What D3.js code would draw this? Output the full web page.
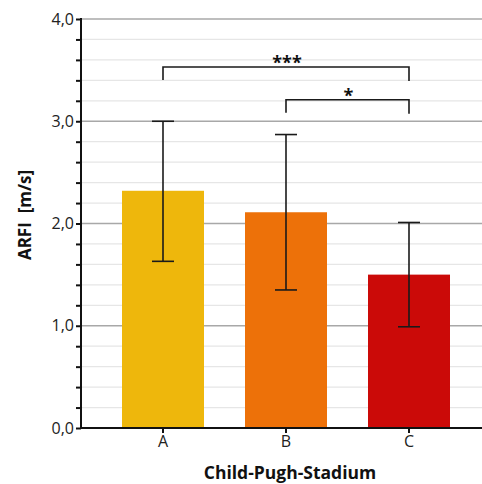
<!DOCTYPE html>
<html>
<head>
<meta charset="utf-8">
<script src="https://cdn.jsdelivr.net/npm/d3@7"></script>
<style>
  html, body { margin: 0; padding: 0; background: #fff; }
  svg { display: block; font-family: "Open Sans", "Noto Sans", sans-serif; }
</style>
</head>
<body>
<svg id="chart" width="482" height="484"></svg>
<script>
// Child-Pugh stages and mean ARFI values with error range
const categories = ["A", "B", "C"];
const means = [2.32, 2.11, 1.50];
const errLow = [1.63, 1.35, 0.99];
const errHigh = [3.00, 2.87, 2.01];
const colors = ["#eeb70c", "#ed7109", "#cb0a08"];
const yTickValues = [0, 1, 2, 3, 4];
const yTickLabels = ["0,0", "1,0", "2,0", "3,0", "4,0"];
// significance brackets: [from, to, label, level]
const brackets = [["A", "C", "***", 3.53], ["B", "C", "*", 3.21]];

(function () {
  const svg = d3.select("#chart");
  const plotLeft = 81, plotBottom = 428, plotTop = 19, plotRight = 491;

  const x = d3.scaleBand().domain(categories).range([plotLeft, plotRight])
    .paddingInner(1 / 3).paddingOuter(1 / 3);
  const y = d3.scaleLinear().domain([0, 4]).range([plotBottom, plotTop]);

  // grid: minor every 0.2, major every 1.0
  const minor = d3.range(0.2, 4.0001, 0.2).filter(v => Math.abs(v - Math.round(v)) > 1e-6);
  svg.append("g").selectAll("line").data(minor).join("line")
    .attr("x1", plotLeft).attr("x2", 482)
    .attr("y1", d => y(d)).attr("y2", d => y(d))
    .attr("stroke", "#e6e6e6").attr("stroke-width", 1.3);
  svg.append("g").selectAll("line").data(yTickValues.slice(1)).join("line")
    .attr("x1", plotLeft).attr("x2", 482)
    .attr("y1", d => y(d)).attr("y2", d => y(d))
    .attr("stroke", "#a8a8a8").attr("stroke-width", 1.3);

  // bars
  svg.append("g").selectAll("rect").data(categories).join("rect")
    .attr("x", d => x(d)).attr("width", x.bandwidth())
    .attr("y", (d, i) => y(means[i]))
    .attr("height", (d, i) => plotBottom - y(means[i]))
    .attr("fill", (d, i) => colors[i]);

  // error bars
  const eg = svg.append("g").attr("stroke", "#1a1a1a").attr("stroke-width", 1.6).attr("fill", "none");
  categories.forEach((c, i) => {
    const cx = x(c) + x.bandwidth() / 2;
    eg.append("line").attr("x1", cx).attr("x2", cx).attr("y1", y(errLow[i])).attr("y2", y(errHigh[i]));
    eg.append("line").attr("x1", cx - 11).attr("x2", cx + 11).attr("y1", y(errHigh[i])).attr("y2", y(errHigh[i]));
    eg.append("line").attr("x1", cx - 11).attr("x2", cx + 11).attr("y1", y(errLow[i])).attr("y2", y(errLow[i]));
  });

  // y axis
  const yAxis = d3.axisLeft(y).tickValues(d3.range(0, 4.0001, 0.2))
    .tickSize(5).tickFormat(d => {
      const k = yTickValues.findIndex(v => Math.abs(v - d) < 1e-6);
      return k >= 0 ? yTickLabels[k] : "";
    });
  const ya = svg.append("g").attr("transform", `translate(${plotLeft},0)`).call(yAxis);
  ya.select(".domain").attr("stroke", "#111").attr("stroke-width", 2)
    .attr("d", `M0,${plotTop - 1}V${plotBottom + 1}`);
  ya.selectAll(".tick line").attr("stroke", "#111").attr("stroke-width", 2);
  ya.selectAll(".tick text").attr("font-size", 16).attr("fill", "#222")
    .attr("x", -7).attr("font-family", "'Open Sans', 'Noto Sans', sans-serif");

  // x axis
  const xAxis = d3.axisBottom(x).tickSize(5).tickSizeOuter(0);
  const xa = svg.append("g").attr("transform", `translate(0,${plotBottom})`).call(xAxis);
  xa.select(".domain").attr("stroke", "#111").attr("stroke-width", 2)
    .attr("d", `M${plotLeft - 1},0H482`);
  xa.selectAll(".tick line").attr("stroke", "#111").attr("stroke-width", 2);
  xa.selectAll(".tick text").attr("font-size", 16).attr("fill", "#222")
    .attr("y", 8).attr("font-family", "'Open Sans', 'Noto Sans', sans-serif");

  // significance brackets
  const bg = svg.append("g");
  brackets.forEach(([a, b, label, v]) => {
    const x1 = x(a) + x.bandwidth() / 2, x2 = x(b) + x.bandwidth() / 2;
    const yy = y(v);
    bg.append("path")
      .attr("d", `M${x1},${yy + 13}V${yy}H${x2}V${yy + 14}`)
      .attr("fill", "none").attr("stroke", "#1a1a1a").attr("stroke-width", 1.6);
    bg.append("text").attr("x", (x1 + x2) / 2 + 1).attr("y", yy + 2)
      .attr("text-anchor", "middle").attr("font-size", 18).attr("font-weight", "bold")
      .attr("fill", "#111").text(label);
  });

  // axis titles
  svg.append("text").attr("transform", "translate(31,215) rotate(-90)")
    .attr("text-anchor", "middle").attr("font-size", 17).attr("font-weight", "bold")
    .attr("fill", "#111").style("white-space", "pre")
    .text("ARFI  [m/s]");
  svg.append("text").attr("x", 290).attr("y", 479)
    .attr("text-anchor", "middle").attr("font-size", 17.5).attr("font-weight", "bold")
    .attr("fill", "#111").text("Child-Pugh-Stadium");
})();
</script>
</body>
</html>
